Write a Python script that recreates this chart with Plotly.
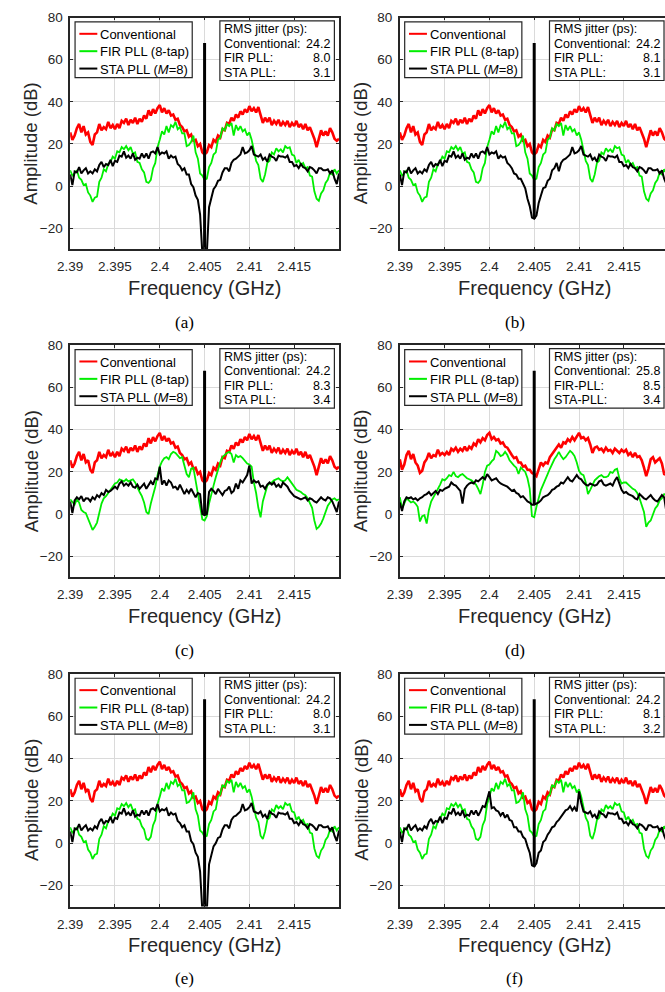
import numpy as np
import plotly.graph_objects as go

# Spectrum analyser sweep: 2.390 - 2.420 GHz, 0.25 MHz bins (carrier bin = 2.405 GHz)
FREQ_GHZ = np.round(np.linspace(2.39, 2.42, 121), 6)
CARRIER_GHZ = 2.405
CARRIER_DB = 68

X_TICKS = [2.39, 2.395, 2.4, 2.405, 2.41, 2.415]
X_TICK_TEXT = ["2.39", "2.395", "2.4", "2.405", "2.41", "2.415"]
Y_TICKS = [-20, 0, 20, 40, 60, 80]

# Conventional PLL output spectrum, noise floor around the carrier (dB)
CONV_MAIN = [
    25.5, 22, 24, 27.5, 29.5, 25.5, 28.5, 24.5, 25.5, 21,
    19.5, 24.5, 25.5, 29.5, 26.5, 28, 27, 30.5, 27.5, 29,
    27, 29.5, 27.5, 31, 30, 32, 29, 31.5, 30, 32.5,
    29.5, 32, 30.5, 33.5, 32, 36, 33.5, 36.5, 34.5, 37,
    38.5, 35, 37, 34.5, 36, 33.5, 34, 31.5, 32, 29,
    28, 26, 26.5, 23.5, 24.5, 21.5, 22, 19, 20, 16,
    15,
    16, 19.5, 18.5, 22, 21, 24, 23, 27, 26.5, 30,
    29.5, 32.5, 31, 34, 32.5, 35.5, 34, 36.5, 35, 38,
    35.5, 37, 35, 37.5, 33, 30, 32.5, 30.5, 32.5, 29,
    31, 29.5, 31.5, 28.5, 30.5, 29, 31, 28, 30, 28.5,
    31, 28, 29.5, 27, 29.5, 26.5, 28, 25.5, 22.5, 18.5,
    23, 26.5, 24, 26, 24, 27.5, 25.5, 22.5, 21.5, 22.5,
]
CONV_D = [
    26, 21, 23.5, 28, 30, 26, 28.5, 24.5, 23, 19.5,
    20.5, 24.5, 26, 29, 26.5, 28, 27.5, 30.5, 28, 29,
    28, 29.5, 28, 31, 30, 31.5, 29.5, 31, 30, 32,
    30, 32, 31, 33.5, 32.5, 35.5, 34, 36, 35, 37.5,
    38.5, 35.5, 36.5, 35, 35.5, 33.5, 34, 32, 31.5, 29.5,
    28, 26.5, 27, 24.5, 24.5, 22.5, 23, 21, 21, 19.5,
    19,
    18, 21.5, 24.5, 23, 24.5, 24, 27, 28.5, 30, 31,
    33, 31.5, 34, 33.5, 35.5, 34.5, 36.5, 35, 37, 38.5,
    36, 36.5, 35, 36, 33, 29, 31.5, 32, 30.5, 31,
    29.5, 31.5, 30, 30.5, 29, 31, 30, 29, 30.5, 29.5,
    30.5, 28, 29, 27, 29, 27, 27.5, 25.5, 22, 18,
    21.5, 26, 27, 24.5, 25.5, 26.5, 24, 19, 18.5, 21,
]

# FIR PLL (8-tap) output spectrum (dB)
FIR_MAIN = [
    7.5, 5, 6, 7.5, 4, 3, 0.5, 1, -3, -4.5,
    -7.5, -5.5, -5, 2, 4, 8, 7, 10.5, 11.5, 14,
    13, 16.5, 16, 18.5, 17.5, 19, 17, 18.5, 15.5, 16,
    11.5, 11, 8, 6.5, 2, 1.5, 3, 8.5, 11, 18.5,
    22, 26, 24.5, 28.5, 25.5, 29, 28, 30.5, 27, 28,
    25, 25, 19, 19.5, 21, 24, 16, 13, 6, 5,
    3,
    3.5, 9, 11, 15, 16, 22, 23, 27.5, 26.5, 29.5,
    28.5, 30, 24, 29, 26.5, 28.5, 26, 27, 24, 25.5,
    22, 17, 12, 10, 3.5, 2, 5.5, 11, 12, 16,
    15, 18, 16.5, 17.5, 16, 19, 18, 18.5, 15, 14.5,
    11, 12.5, 10, 11, 8.5, 9, 5, 4.5, -2.5, -6,
    -7, -3.5, -2, 1.5, 3, 6.5, 5.5, 8, 6, 7.5,
]
FIR_C = [
    7, 5.5, 4.5, 7, 5.5, 2, 1, 0.5, -2.5, -5.5,
    -7.5, -6, -4, 0.5, 5, 7.5, 8.5, 10, 11.5, 13.5,
    14.5, 15, 16.5, 16, 15.5, 16.5, 15.5, 16, 16.5, 15,
    12.5, 10.5, 8.5, 5.5, 1, 0, 5, 9, 13, 18.5,
    22.5, 25, 26.5, 27, 26, 28.5, 29.5, 29, 27.5, 26.5,
    27, 23.5, 19, 17.5, 21.5, 22, 16, 10, 4, -2.5,
    -3,
    -1, 5, 10, 13.5, 17.5, 21.5, 24.5, 27, 28, 29,
    29.5, 28.5, 24.5, 28, 27, 27.5, 26.5, 25, 24, 23.5,
    22.5, 15, 10, 3, -1.5, 6, 10.5, 13.5, 14.5, 15,
    16, 16.5, 17, 16, 15.5, 16, 17.5, 16, 14.5, 13,
    11.5, 11, 10.5, 9.5, 9, 7.5, 5.5, 3, -3, -7,
    -6, -4.5, -2, 1.5, 4, 5.5, 7, 7.5, 6.5, 7,
]
FIR_D = [
    8, 3, 5, 7.5, 6.5, 5.5, 6, 5, 3.5, -3.5,
    -1, -0.5, -4.5, 2, 6, 8, 10, 11.5, 14, 16.5,
    16, 17, 18.5, 18, 20, 18, 17.5, 18.5, 19, 18,
    17, 16.5, 16, 15, 14, 12, 9.5, 14, 20, 23,
    23.5, 25, 26, 30, 29, 27.5, 28, 29.5, 28, 25.5,
    24, 23, 22, 19, 22, 21, 20, 17, 12, -1,
    -1.5,
    3.5, 8, 11.5, 14, 17, 19, 21.5, 24, 26, 27.5,
    29.5, 27.5, 26, 27, 28.5, 30, 29, 27.5, 24.5, 20.5,
    19, 18.5, 15, 9.5, 11.5, 13.5, 16, 17, 18, 18.5,
    17.5, 17.5, 18, 20, 19.5, 21, 21.5, 17, 14.5, 15,
    15, 14, 13, 12, 11.5, 10, 7.5, 4, 1, -6,
    -4, -3, 0, 2.7, 4, 6.5, 7.5, 9.5, 9, 8,
]

# STA PLL (M=8) output spectrum (dB)
STA_A = [
    5.5, 0.5, 7, 6.5, 9, 6, 7.5, 8.5, 6, 7,
    6, 8, 7, 10, 11.5, 9, 10.5, 10, 12.5, 9.5,
    12, 11.5, 14.5, 14, 16.5, 13.5, 14.5, 13, 15.5, 12.5,
    13.5, 13, 15.5, 13.5, 15.5, 13, 16, 16.5, 15.5, 18.5,
    15, 16, 15.5, 16.5, 13, 14.5, 13.5, 14, 10.5, 9.5,
    7.5, 8.5, 5.5, 5.5, 1, -0.5, -4.5, -6.5, -13.5, -32,
    -32,
    -32, -10, -5.5, -1.5, 0, 2.5, 3, 6.5, 8.5, 8.5,
    7, 11, 12.5, 13, 14, 15, 18.5, 15.5, 16, 17,
    19, 15, 14.5, 14, 15, 12.5, 13.5, 11.5, 15, 14,
    13.5, 12, 14.5, 14, 14, 13.5, 14.5, 11.5, 11.5, 9.5,
    10, 8.5, 10.5, 9, 8.5, 7, 9, 8.5, 7.5, 6,
    8.5, 8.5, 7.5, 7.5, 8, 6, 7.5, 3.5, 1, 6,
]
STA_B = [
    5.5, 0.5, 7, 6.5, 9, 6, 7.5, 8.5, 6, 7,
    6, 8, 7, 10, 11.5, 9, 10.5, 10, 12.5, 9.5,
    12, 11.5, 14.5, 14, 16.5, 13.5, 14.5, 13, 15.5, 12.5,
    13.5, 13, 15.5, 13.5, 15.5, 13, 16, 16.5, 15.5, 18.5,
    15, 16, 15.5, 16.5, 13, 14.5, 13.5, 14, 11, 10,
    8.5, 6, 5.5, 3.5, 3.5, 1.5, -1, -6, -9.5, -15,
    -15.5,
    -14, -8, -4.5, -1, -0.5, 2.5, 3.5, 7.5, 8.5, 11,
    7, 11, 12.5, 13, 14, 15, 18.5, 15.5, 16, 17,
    19, 15, 14.5, 14, 15, 12.5, 13.5, 11.5, 15, 14,
    13.5, 12, 14.5, 14, 14, 13.5, 14.5, 11.5, 11.5, 9.5,
    10, 8.5, 10.5, 9, 8.5, 7, 9, 8.5, 7.5, 6,
    8.5, 8.5, 7.5, 7.5, 8, 6, 7.5, 3.5, 1, 6,
]
STA_C = [
    6, 0.5, 6.5, 8, 7, 8.5, 6, 7.5, 7.4, 6,
    8, 7, 9, 8, 10, 9, 11.5, 10.5, 11, 12,
    13, 12, 14.5, 15.5, 13.5, 14.5, 13.5, 15, 13, 12.5,
    14, 12, 13.5, 14.5, 12, 14, 15.5, 14, 17, 16.5,
    22.5, 14, 16, 13.5, 16, 15, 12.5, 13, 11.5, 14,
    12, 9.5, 11.5, 10, 12, 10, 8, 10, 9.5, 0,
    -0.5,
    0, 10.5, 12, 11, 9.5, 12, 10.5, 9, 11, 11.5,
    13, 10, 11, 14.5, 12, 16, 15, 17, 18.5, 23,
    14.5, 16, 15, 15.5, 13, 13.5, 12, 14, 15, 14,
    15, 13, 14, 12.5, 15, 14, 13, 11, 9.5, 8.5,
    8, 7.5, 7, 7.5, 8, 6.5, 7.5, 7, 6, 5.5,
    7, 8, 7, 6.5, 8, 7.5, 6, 3, 1, 6,
]
STA_D = [
    5.5, 1.5, 6, 8, 7.5, 8, 7, 7.5, 6.5, 7.5,
    8, 9, 9.5, 10.5, 9, 10, 11, 9.5, 11.5, 11,
    12, 12.5, 13, 15, 14, 13.5, 12, 11, 5, 12,
    13.5, 14.5, 15, 14.5, 16, 15.5, 16.5, 17.5, 16.5, 19,
    17.5, 16, 16.5, 17, 15.5, 14.5, 14, 13.5, 13, 12,
    11, 11.5, 10, 9.5, 8, 8.5, 7, 6, 5.5, 4.5,
    4.5,
    5, 5.5, 6.5, 8, 8.5, 9, 10, 11.5, 12, 13,
    13.5, 15, 14.5, 16, 17.5, 16, 15.5, 17, 18.5, 17,
    16.5, 15, 14, 13.5, 14.5, 14, 13.5, 14, 15.5, 16,
    14, 13.5, 14, 14.5, 13.5, 16, 17.5, 14, 11.5, 10,
    10.5, 9.5, 9, 8.5, 7.5, 7, 9.5, 8.5, 7.5, 7,
    8, 9, 7.5, 6.5, 6, 7.5, 9, 8, 1, 5,
]
STA_F = [
    5.5, 0.5, 7, 6.5, 9, 6, 7.5, 8.5, 6, 7,
    6, 8, 7, 10, 11.5, 9, 10.5, 10, 12.5, 9.5,
    12, 11.5, 14.5, 14, 16.5, 13.5, 14.5, 13, 15.5, 12.5,
    13.5, 13, 15.5, 13.5, 15.5, 13, 15, 17.5, 17, 20.5,
    24.5, 16.5, 17, 15.5, 15, 13, 14.5, 12, 13.5, 11,
    10.5, 7.5, 7.5, 5.5, 5.5, 3, 2, -1.5, -4.5, -10.5,
    -11,
    -9.5, -4.5, -3.5, 0.5, 1.5, 4, 5.5, 7.5, 8, 10,
    11, 12.5, 14, 15.5, 16, 17.5, 15.5, 17, 15, 24.5,
    19, 15, 14.5, 14, 15, 12.5, 13.5, 11.5, 15, 14,
    13.5, 12, 14.5, 14, 14, 13.5, 14.5, 11.5, 11.5, 9.5,
    10, 8.5, 10.5, 9, 8.5, 7, 9, 8.5, 7.5, 6,
    8.5, 8.5, 7.5, 7.5, 8, 6, 7.5, 3.5, 1, 6,
]

SERIES_NAMES = ["Conventional", "FIR PLL (8-tap)", "STA PLL (<i>M</i>=8)"]
SERIES_COLORS = ["#ff0000", "#00ee00", "#000000"]
SERIES_WIDTHS = [2.6, 1.8, 2.0]

PANELS = [
    dict(tag="(a)", data=(CONV_MAIN, FIR_MAIN, STA_A), rms=("24.2", "8.0", "3.1"), sep=" "),
    dict(tag="(b)", data=(CONV_MAIN, FIR_MAIN, STA_B), rms=("24.2", "8.1", "3.1"), sep=" "),
    dict(tag="(c)", data=(CONV_MAIN, FIR_C, STA_C), rms=("24.2", "8.3", "3.4"), sep=" "),
    dict(tag="(d)", data=(CONV_D, FIR_D, STA_D), rms=("25.8", "8.5", "3.4"), sep="-"),
    dict(tag="(e)", data=(CONV_MAIN, FIR_MAIN, STA_A), rms=("24.2", "8.0", "3.1"), sep=" "),
    dict(tag="(f)", data=(CONV_MAIN, FIR_MAIN, STA_F), rms=("24.2", "8.1", "3.2"), sep=" "),
]

# Page geometry in pixels
W, H = 665, 992
COL_LEFT = [58.3, 394.5]
AX_W = 274.2                     # full axis width for the 30 MHz span
ROW_TOP = [10.7, 340.7, 671.7]
ROW_BOTTOM = [244.0, 574.5, 906.0]
F_START, F_SPAN = 2.39, 0.03

FONT = "Liberation Sans, Arial, Helvetica, sans-serif"
AXIS_COLOR = "#262626"
GRID_COLOR = "#dadada"


def px(x):
    return x / W


def py(y):
    return 1 - y / H


fig = go.Figure()
shapes, annotations = [], []
centre = int(np.argmin(np.abs(FREQ_GHZ - CARRIER_GHZ)))

for k, panel in enumerate(PANELS):
    row, col = divmod(k, 2)
    left = COL_LEFT[col]
    right = min(left + AX_W, W)
    top, bottom = ROW_TOP[row], ROW_BOTTOM[row]
    f_end = F_START + (right - left) / AX_W * F_SPAN
    suffix = "" if k == 0 else str(k + 1)
    xa, ya = "x" + suffix, "y" + suffix

    for name, values, color, width in zip(SERIES_NAMES, panel["data"], SERIES_COLORS, SERIES_WIDTHS):
        fig.add_trace(go.Scatter(
            x=FREQ_GHZ, y=values, mode="lines", name=name,
            line=dict(color=color, width=width),
            xaxis=xa, yaxis=ya, showlegend=False, hoverinfo="skip",
        ))

    # Carrier tone, rising from the STA PLL floor at the carrier bin
    sta = panel["data"][2]
    fig.add_trace(go.Scatter(
        x=[CARRIER_GHZ, CARRIER_GHZ], y=[sta[centre], CARRIER_DB], mode="lines",
        line=dict(color="#000000", width=3), xaxis=xa, yaxis=ya,
        showlegend=False, hoverinfo="skip",
    ))

    fig.layout["xaxis" + suffix] = dict(
        domain=[px(left), px(right)], range=[F_START, f_end], anchor=ya,
        tickvals=X_TICKS, ticktext=X_TICK_TEXT, ticks="inside", ticklen=3,
        tickcolor=AXIS_COLOR, showline=True, linecolor=AXIS_COLOR, linewidth=1.5,
        mirror="ticks", showgrid=True, gridcolor=GRID_COLOR, gridwidth=1.2,
        zeroline=False, tickfont=dict(size=13.5, color="#262626", family=FONT),
        ticklabelstandoff=4,
    )
    fig.layout["yaxis" + suffix] = dict(
        domain=[py(bottom), py(top)], range=[-30, 80], anchor=xa,
        tickvals=Y_TICKS, ticks="inside", ticklen=3, tickcolor=AXIS_COLOR,
        showline=True, linecolor=AXIS_COLOR, linewidth=1.5,
        mirror="ticks" if col == 0 else False,
        showgrid=True, gridcolor=GRID_COLOR, gridwidth=1.2, zeroline=False,
        tickfont=dict(size=13.5, color="#262626", family=FONT),
        ticklabelstandoff=3,
    )

    # Axis titles and sub-figure caption
    annotations.append(dict(
        x=px(left + AX_W / 2), y=py(top + 272.5), xref="paper", yref="paper",
        text="Frequency (GHz)", showarrow=False, xanchor="center", yanchor="middle",
        font=dict(size=20, color="#262626", family=FONT),
    ))
    annotations.append(dict(
        x=px(left - 40), y=py(top + 127), xref="paper", yref="paper",
        text="Amplitude (dB)", textangle=-90, showarrow=False,
        xanchor="center", yanchor="middle",
        font=dict(size=18.5, color="#262626", family=FONT),
    ))
    annotations.append(dict(
        x=px(left + 117), y=py(top + 307), xref="paper", yref="paper",
        text=panel["tag"], showarrow=False, xanchor="center", yanchor="middle",
        font=dict(size=17, color="#000000", family="Liberation Serif, Times New Roman, serif"),
    ))

    # Series key box
    shapes.append(dict(
        type="rect", xref="paper", yref="paper", layer="above",
        x0=px(left + 5), x1=px(left + 124.5), y0=py(top + 60.5), y1=py(top + 4.3),
        line=dict(color=AXIS_COLOR, width=1.2), fillcolor="white",
    ))
    for j, (name, color) in enumerate(zip(SERIES_NAMES, SERIES_COLORS)):
        yy = top + 16.3 + 17.5 * j
        shapes.append(dict(
            type="line", xref="paper", yref="paper", layer="above",
            x0=px(left + 9.4), x1=px(left + 27.7), y0=py(yy), y1=py(yy),
            line=dict(color=color, width=2),
        ))
        annotations.append(dict(
            x=px(left + 28.5), y=py(yy + 0.8), xref="paper", yref="paper",
            text=name, showarrow=False, xanchor="left", yanchor="middle",
            font=dict(size=13, color="#000000", family=FONT),
        ))

    # RMS jitter box
    shapes.append(dict(
        type="rect", xref="paper", yref="paper", layer="above",
        x0=px(left + 152.7), x1=px(min(left + 269.5, W + 5)),
        y0=py(top + 63.3), y1=py(top + 3.3),
        line=dict(color=AXIS_COLOR, width=1.2), fillcolor="white",
    ))
    sep = panel["sep"]
    rows = [
        ("RMS jitter (ps):", None),
        ("Conventional:", panel["rms"][0]),
        (f"FIR{sep}PLL:", panel["rms"][1]),
        (f"STA{sep}PLL:", panel["rms"][2]),
    ]
    for j, (label, value) in enumerate(rows):
        yy = top + 11.5 + 14.6 * j
        annotations.append(dict(
            x=px(left + 155), y=py(yy), xref="paper", yref="paper",
            text=label, showarrow=False, xanchor="left", yanchor="middle",
            font=dict(size=12.5, color="#000000", family=FONT),
        ))
        if value is not None:
            annotations.append(dict(
                x=px(left + 267.5), y=py(yy), xref="paper", yref="paper",
                text=value, showarrow=False, xanchor="right", yanchor="middle",
                font=dict(size=12.5, color="#000000", family=FONT),
            ))

fig.update_layout(
    width=W, height=H, margin=dict(l=0, r=0, t=0, b=0),
    paper_bgcolor="white", plot_bgcolor="white",
    font=dict(family=FONT, color="#262626"),
    shapes=shapes, annotations=annotations, showlegend=False,
)

fig.write_html("out.html")
